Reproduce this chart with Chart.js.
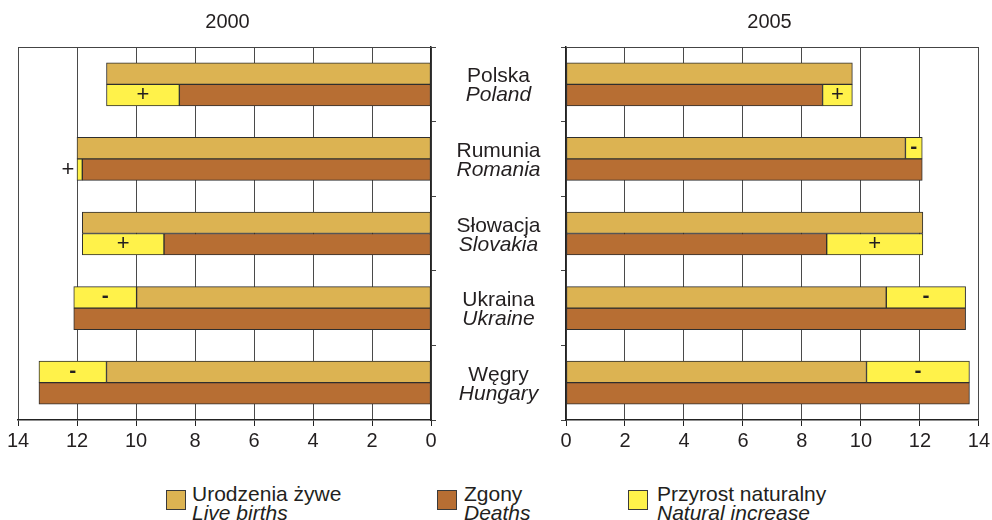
<!DOCTYPE html>
<html lang="pl">
<head>
<meta charset="utf-8">
<title>Urodzenia, zgony i przyrost naturalny 2000 / 2005</title>
<script src="https://cdn.jsdelivr.net/npm/chart.js@4.4.1/dist/chart.umd.min.js"></script>
<style>
    html, body { margin: 0; padding: 0; background: #fff; }
    body {
        width: 992px; height: 520px; position: relative; overflow: hidden;
        font-family: "Liberation Sans", Arial, Helvetica, sans-serif; color: #231f20;
    }
    canvas { position: absolute; top: 0; }
    #chart2000 { left: 0; }
    #chart2005 { left: 552px; }
    .country {
        position: absolute; width: 130px; text-align: center;
        font-size: 21px; line-height: 19px; transform: translateY(-50%);
    }
    .country i, .legend-text i { display: block; font-style: italic; }
    .legend-item { position: absolute; top: 484px; }
    .legend-box {
        position: absolute; top: 6px; width: 18px; height: 18px;
        border: 1px solid #3a3a3a;
    }
    .legend-text {
        position: absolute; white-space: nowrap;
        font-size: 21px; line-height: 19px;
    }
</style>
</head>
<body>
<canvas id="chart2000" width="449" height="470"></canvas>
<canvas id="chart2005" width="441" height="470"></canvas>
<div id="countryLabels"></div>

<div class="legend-item" style="left:166px">
    <div class="legend-box" style="background:#dcb352"></div>
    <div class="legend-text" style="left:26px">Urodzenia żywe<i>Live births</i></div>
</div>
<div class="legend-item" style="left:437px">
    <div class="legend-box" style="background:#b76e33"></div>
    <div class="legend-text" style="left:27px">Zgony<i>Deaths</i></div>
</div>
<div class="legend-item" style="left:628px">
    <div class="legend-box" style="background:#fff24a"></div>
    <div class="legend-text" style="left:29px">Przyrost naturalny<i>Natural increase</i></div>
</div>

<script>
// データ（‰）
const countriesPl = ['Polska', 'Rumunia', 'Słowacja', 'Ukraina', 'Węgry'];
const countriesEn = ['Poland', 'Romania', 'Slovakia', 'Ukraine', 'Hungary'];
const births2000 = [11.0, 12.0, 11.82, 9.98, 11.0];
const deaths2000 = [8.53, 11.82, 9.05, 12.11, 13.29];
const births2005 = [9.71, 11.51, 12.1, 10.86, 10.19];
const deaths2005 = [8.7, 12.08, 8.84, 13.55, 13.68];
const xTicks = [0, 2, 4, 6, 8, 10, 12, 14];

const COLOR_BIRTHS = '#dcb352';
const COLOR_DEATHS = '#b76e33';
const COLOR_INCREASE = '#fff24a';
const FONT_FAMILY = '"Liberation Sans", Arial, Helvetica, sans-serif';

// 上辺の枠線と +/- 記号を描くプラグイン
const panelPlugin = {
    id: 'panelDecor',
    beforeDatasetsDraw(chart) {
        const ctx = chart.ctx;
        const area = chart.chartArea;
        ctx.save();
        ctx.strokeStyle = '#444';
        ctx.lineWidth = 1;
        ctx.beginPath();
        ctx.moveTo(area.left, Math.round(area.top) + 0.5);
        ctx.lineTo(area.right, Math.round(area.top) + 0.5);
        ctx.stroke();
        ctx.restore();
    },
    afterDatasetsDraw(chart) {
        const ctx = chart.ctx;
        const xScale = chart.scales.x;
        ctx.save();
        ctx.fillStyle = '#231f20';
        ctx.textAlign = 'center';
        ctx.textBaseline = 'middle';
        chart.data.datasets.forEach(function(ds, di) {
            if (!ds.sign) return; // 記号なしのデータセットはスキップ
            const meta = chart.getDatasetMeta(di);
            meta.data.forEach(function(bar, i) {
                const range = ds.data[i];
                if (!range) return;
                const pLow = xScale.getPixelForValue(range[0]);
                const pHigh = xScale.getPixelForValue(range[1]);
                let x = (pLow + pHigh) / 2;
                if (Math.abs(pHigh - pLow) < 12) {
                    // 幅が狭いときはバーの外側に表示
                    x = pHigh + Math.sign(pHigh - pLow) * 9;
                }
                ctx.font = (ds.sign === '-' ? 'bold 21px ' : '22px ') + FONT_FAMILY;
                ctx.fillText(ds.sign, x, bar.y + (ds.sign === '-' ? -1 : 0));
            });
        });
        ctx.restore();
    }
};

function makeDatasets(births, deaths) {
    // 自然増減の区間は出生と死亡の差から作る
    const lossOnBirths = births.map((b, i) => (b < deaths[i] ? [b, deaths[i]] : null));
    const gainOnDeaths = births.map((b, i) => (b >= deaths[i] ? [deaths[i], b] : null));
    return [
        { label: 'Urodzenia żywe', data: births, backgroundColor: COLOR_BIRTHS, stack: 'births' },
        { label: 'Zgony', data: deaths, backgroundColor: COLOR_DEATHS, stack: 'deaths' },
        { label: 'Przyrost naturalny', data: lossOnBirths, backgroundColor: COLOR_INCREASE, stack: 'births', sign: '-' },
        { label: 'Przyrost naturalny', data: gainOnDeaths, backgroundColor: COLOR_INCREASE, stack: 'deaths', sign: '+' }
    ];
}

function makeChart(canvasId, title, births, deaths, reversed, padding) {
    const ctx = document.getElementById(canvasId).getContext('2d');
    return new Chart(ctx, {
        type: 'bar',
        data: {
            labels: countriesEn,
            datasets: makeDatasets(births, deaths)
        },
        options: {
            indexAxis: 'y',
            responsive: false,
            animation: false,
            layout: { padding: padding },
            datasets: {
                bar: {
                    barThickness: 21.5,
                    borderWidth: 1,
                    borderColor: '#2e2e2e',
                    borderSkipped: false
                }
            },
            plugins: {
                legend: { display: false },
                tooltip: { enabled: false },
                title: {
                    display: true,
                    text: title,
                    color: '#231f20',
                    font: { family: FONT_FAMILY, size: 20, weight: 'normal' },
                    padding: { top: 10, bottom: 13 }
                }
            },
            scales: {
                x: {
                    type: 'linear',
                    min: 0,
                    max: 14,
                    reverse: reversed,
                    stacked: false,
                    afterBuildTicks(scale) {
                        scale.ticks = xTicks.map(v => ({ value: v }));
                    },
                    afterFit(scale) { scale.height = 50; },
                    ticks: {
                        color: '#231f20',
                        padding: 3,
                        maxRotation: 0,
                        font: { family: FONT_FAMILY, size: 20 }
                    },
                    grid: { color: '#4a4a4a', lineWidth: 1, tickLength: 6, tickColor: '#222' },
                    border: { color: '#222', width: 1.5 }
                },
                y: {
                    position: reversed ? 'right' : 'left',
                    afterFit(scale) { scale.width = 6; },
                    ticks: { display: false },
                    grid: { drawOnChartArea: false, offset: true, tickLength: 5, color: '#444' },
                    border: { color: '#222', width: 1.5 }
                }
            }
        },
        plugins: [panelPlugin]
    });
}

document.addEventListener('DOMContentLoaded', function() {
    const chart2000 = makeChart('chart2000', '2000', births2000, deaths2000, true,
        { left: 18, right: 12, top: 0, bottom: 0 });
    makeChart('chart2005', '2005', births2005, deaths2005, false,
        { left: 8, right: 14, top: 0, bottom: 0 });

    // 国名ラベルをカテゴリ軸の位置に合わせて配置
    const holder = document.getElementById('countryLabels');
    const yScale = chart2000.scales.y;
    countriesPl.forEach(function(name, i) {
        const div = document.createElement('div');
        div.className = 'country';
        div.style.left = (498.5 - 65) + 'px';
        div.style.top = yScale.getPixelForValue(i) + 'px';
        div.innerHTML = name + '<i>' + countriesEn[i] + '</i>';
        holder.appendChild(div);
    });
});
</script>
</body>
</html>
